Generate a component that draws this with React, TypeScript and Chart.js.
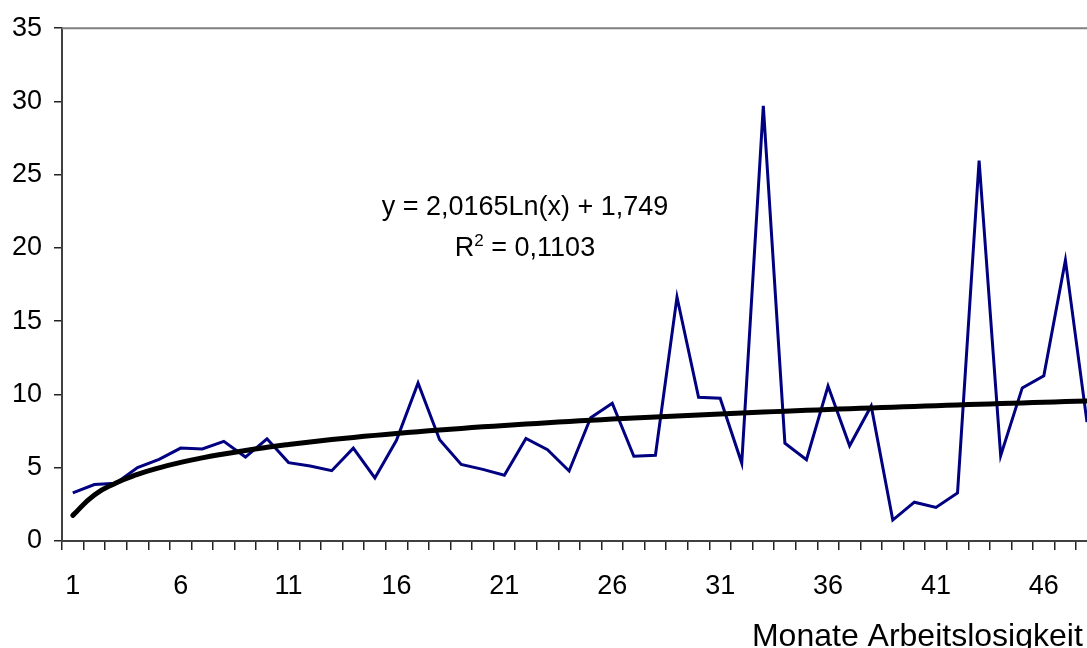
import React, { useEffect, useRef } from 'react';
import { Chart, registerables } from 'chart.js';

Chart.register(...registerables);

// Categories: months of unemployment (1..48)
const months: number[] = [
  1, 2, 3, 4, 5, 6, 7, 8, 9, 10, 11, 12, 13, 14, 15, 16, 17, 18, 19, 20, 21, 22, 23, 24,
  25, 26, 27, 28, 29, 30, 31, 32, 33, 34, 35, 36, 37, 38, 39, 40, 41, 42, 43, 44, 45, 46, 47, 48,
];

const observed: number[] = [
  3.28, 3.85, 3.94, 5.01, 5.57, 6.34, 6.28, 6.8, 5.73, 6.98, 5.35, 5.12, 4.8, 6.34, 4.3, 6.87,
  10.79, 6.91, 5.23, 4.89, 4.49, 7.0, 6.23, 4.78, 8.41, 9.4, 5.78, 5.85, 16.65, 9.81, 9.74, 5.32,
  29.7, 6.68, 5.55, 10.58, 6.5, 9.22, 1.43, 2.65, 2.29, 3.28, 25.97, 5.82, 10.45, 11.28, 19.17, 8.11,
];

// Logarithmic trendline as printed on the chart: y = 2,0165 Ln(x) + 1,749
const trendSlope = 2.0165;
const trendIntercept = 1.749;
const trendR2 = '0,1103';
const trend: number[] = months.map((m) => trendSlope * Math.log(m) + trendIntercept);

const yTicks = [0, 5, 10, 15, 20, 25, 30, 35];
const xAxisTitle = 'Monate Arbeitslosigkeit';
const eqLine1 = 'y = 2,0165Ln(x) + 1,749';
const eqLine2Base = 'R';
const eqLine2Sup = '2';
const eqLine2Rest = ' = ' + trendR2;

const FONT = '"Liberation Sans", Arial, sans-serif';

const overlayPlugin = {
  id: 'overlay',
  afterDraw(chart: any) {
    const { ctx, chartArea } = chart;
    ctx.save();
    // plot area top and right border
    ctx.strokeStyle = '#808080';
    ctx.lineWidth = 2;
    ctx.beginPath();
    ctx.moveTo(chartArea.left, chartArea.top);
    ctx.lineTo(chartArea.right, chartArea.top);
    ctx.lineTo(chartArea.right, chartArea.bottom);
    ctx.stroke();

    // trendline equation
    ctx.fillStyle = '#000';
    ctx.textBaseline = 'alphabetic';
    ctx.textAlign = 'center';
    ctx.font = `27px ${FONT}`;
    const cx = chartArea.left + 463;
    ctx.fillText(eqLine1, cx, chartArea.top + 187);

    // second line: R² = ... with a raised superscript
    const y2 = chartArea.top + 228;
    ctx.textAlign = 'left';
    ctx.font = `27px ${FONT}`;
    const wBase = ctx.measureText(eqLine2Base).width;
    const wRest = ctx.measureText(eqLine2Rest).width;
    ctx.font = `17px ${FONT}`;
    const wSup = ctx.measureText(eqLine2Sup).width;
    const total = wBase + wSup + wRest;
    let x = cx - total / 2;
    ctx.font = `27px ${FONT}`;
    ctx.fillText(eqLine2Base, x, y2);
    x += wBase;
    ctx.font = `17px ${FONT}`;
    ctx.fillText(eqLine2Sup, x, y2 - 10);
    x += wSup;
    ctx.font = `27px ${FONT}`;
    ctx.fillText(eqLine2Rest, x, y2);

    // axis title
    ctx.textAlign = 'right';
    ctx.font = `32px ${FONT}`;
    ctx.fillText(xAxisTitle, chartArea.right - 15, chart.height - 2);
    ctx.restore();
  },
};

export default function App() {
  const canvasRef = useRef<HTMLCanvasElement | null>(null);

  useEffect(() => {
    if (!canvasRef.current) return;
    const chart = new Chart(canvasRef.current, {
      type: 'line',
      data: {
        labels: months.map(String),
        datasets: [
          {
            label: 'Trend',
            data: trend,
            borderColor: '#000000',
            borderWidth: 5,
            pointRadius: 0,
            tension: 0.5,
            fill: false,
            order: 0,
            borderCapStyle: 'round',
          },
          {
            label: 'Werte',
            data: observed,
            borderColor: '#000080',
            borderWidth: 3,
            pointRadius: 0,
            tension: 0,
            fill: false,
            order: 1,
          },
        ],
      },
      options: {
        responsive: false,
        animation: false,
        devicePixelRatio: 1,
        layout: { padding: { top: 26, right: 1, left: 0, bottom: 0 } },
        plugins: {
          legend: { display: false },
          tooltip: { enabled: false },
          title: { display: false },
        },
        scales: {
          x: {
            type: 'category',
            offset: true,
            grid: {
              offset: true,
              drawOnChartArea: false,
              drawTicks: true,
              tickLength: 9,
              color: '#222222',
              lineWidth: 1.5,
            },
            border: { display: true, color: '#404040', width: 2 },
            ticks: {
              autoSkip: false,
              maxRotation: 0,
              minRotation: 0,
              padding: 20,
              color: '#000',
              font: { family: FONT, size: 27 },
              callback: (_v: any, i: number) => (i % 5 === 0 ? String(months[i]) : ''),
            },
            afterFit: (scale: any) => {
              scale.height = 107;
            },
          },
          y: {
            min: 0,
            max: 35,
            afterBuildTicks: (scale: any) => {
              scale.ticks = yTicks.map((v) => ({ value: v }));
            },
            grid: {
              drawOnChartArea: false,
              drawTicks: true,
              tickLength: 8,
              color: '#222222',
              lineWidth: 1.5,
            },
            border: { display: true, color: '#404040', width: 2 },
            ticks: {
              padding: 12,
              color: '#000',
              font: { family: FONT, size: 27 },
            },
            afterFit: (scale: any) => {
              scale.width = 62;
            },
          },
        },
      },
      plugins: [overlayPlugin],
    });
    return () => chart.destroy();
  }, []);

  return (
    <div
      style={{
        position: 'fixed',
        left: 0,
        top: 0,
        width: 1087,
        height: 648,
        overflow: 'hidden',
        background: '#fff',
      }}
    >
      <canvas
        ref={canvasRef}
        width={1107}
        height={648}
        style={{ width: 1107, height: 648, display: 'block' }}
      />
    </div>
  );
}
